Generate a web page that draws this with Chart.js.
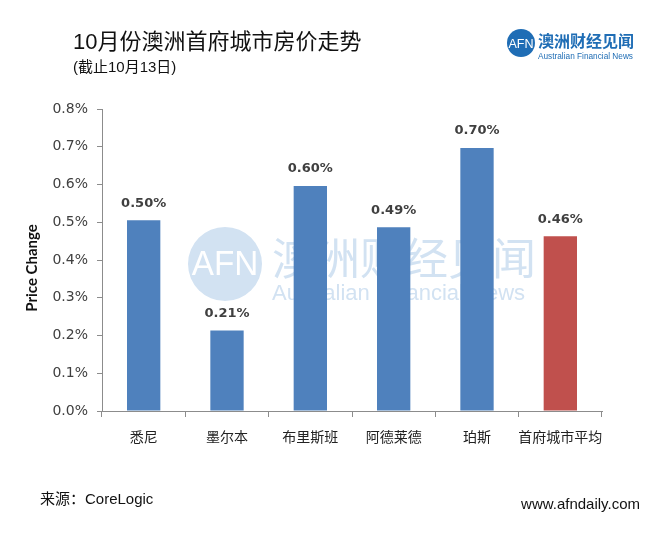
<!DOCTYPE html>
<html>
<head>
<meta charset="utf-8">
<script src="https://cdn.jsdelivr.net/npm/chart.js@4.4.0/dist/chart.umd.min.js"></script>
<style>
  body { margin: 0; background: #fff; }
  canvas { display: block; }
</style>
</head>
<body>
<canvas id="priceChart" width="668" height="538"></canvas>
<script>
// 10月份澳洲首府城市房价走势
var cities = ['悉尼', '墨尔本', '布里斯班', '阿德莱德', '珀斯', '首府城市平均'];
var priceChange = [0.505, 0.213, 0.596, 0.487, 0.697, 0.463];
var changeLabels = ['0.50%', '0.21%', '0.60%', '0.49%', '0.70%', '0.46%'];
var barColors = ['#4F81BD', '#4F81BD', '#4F81BD', '#4F81BD', '#4F81BD', '#C0504D'];

var titleText = '10月份澳洲首府城市房价走势';
var subTitleText = '(截止10月13日)';
var axisTitle = 'Price Change';
var sourceText = '来源：CoreLogic';
var siteText = 'www.afndaily.com';

var cjk = "'Liberation Sans', 'Noto Sans CJK SC', sans-serif";

function drawLogo(ctx, cx, cy, r, cnFont, enSize, color, textX, cnY, enY, enWidth) {
    ctx.save();
    ctx.fillStyle = color;
    ctx.beginPath();
    ctx.arc(cx, cy, r, 0, Math.PI * 2);
    ctx.fill();
    ctx.fillStyle = '#fff';
    ctx.textAlign = 'center';
    ctx.textBaseline = 'middle';
    ctx.font = Math.round(r * 0.95) + "px 'Liberation Sans', sans-serif";
    ctx.fillText('AFN', cx, cy + 1, r * 1.8);
    ctx.fillStyle = color;
    ctx.textAlign = 'left';
    ctx.font = cnFont;
    ctx.fillText('澳洲财经见闻', textX, cnY);
    ctx.font = enSize + "px 'Liberation Sans', sans-serif";
    ctx.fillText('Australian Financial News', textX, enY, enWidth);
    ctx.restore();
}

// 水印
var watermark = {
    id: 'watermark',
    beforeDatasetsDraw: function(chart) {
        drawLogo(chart.ctx, 225, 264, 37, "44px 'Noto Sans CJK SC', sans-serif",
            22, '#d2e2f2', 272, 258, 294, 254);
    }
};

// 标题, 数值, 来源
var decorations = {
    id: 'decorations',
    afterDatasetsDraw: function(chart) {
        var ctx = chart.ctx;
        var meta = chart.getDatasetMeta(0);
        ctx.save();
        ctx.fillStyle = '#404040';
        ctx.font = "bold 13px 'DejaVu Sans', sans-serif";
        ctx.textAlign = 'center';
        ctx.textBaseline = 'middle';
        meta.data.forEach(function(bar, i) {
            ctx.fillText(changeLabels[i], bar.x, bar.y - 17);
        });
        ctx.restore();
    },
    afterDraw: function(chart) {
        var ctx = chart.ctx;
        ctx.save();
        ctx.fillStyle = '#111';
        ctx.textBaseline = 'middle';
        ctx.textAlign = 'left';
        ctx.font = '22px ' + cjk;
        ctx.fillText(titleText, 73, 43);
        ctx.font = '15px ' + cjk;
        ctx.fillText(subTitleText, 73, 68);
        ctx.fillText(sourceText, 40, 500);
        ctx.textAlign = 'right';
        ctx.fillText(siteText, 640, 505);
        // y 轴标题
        ctx.translate(32, 268);
        ctx.rotate(-Math.PI / 2);
        ctx.textAlign = 'center';
        ctx.font = 'bold 15px Lato, sans-serif';
        ctx.fillText(axisTitle, 0, 0);
        ctx.restore();
        drawLogo(ctx, 521, 43, 14, "bold 16px 'Noto Sans CJK SC', sans-serif",
            9, '#1f6db5', 538, 41, 57, 95);
    }
};

var ctx1 = document.getElementById('priceChart').getContext('2d');
var myChart1 = new Chart(ctx1, {
    type: 'bar',
    data: {
        labels: cities,
        datasets: [{
            data: priceChange,
            backgroundColor: barColors,
            barPercentage: 0.4,
            categoryPercentage: 1
        }]
    },
    options: {
        responsive: false,
        animation: false,
        layout: { padding: { left: 20, right: 66, top: 109, bottom: 0 } },
        plugins: {
            legend: { display: false },
            tooltip: { enabled: false }
        },
        scales: {
            x: {
                afterFit: function(scale) { scale.height = 127; },
                grid: { offset: true, drawOnChartArea: false, tickLength: 6, color: '#8c8c8c' },
                border: { color: '#8c8c8c' },
                ticks: {
                    padding: 11,
                    maxRotation: 0,
                    minRotation: 0,
                    autoSkip: false,
                    color: '#222',
                    font: { family: "'Noto Sans CJK SC', sans-serif", size: 14 }
                }
            },
            y: {
                min: 0,
                max: 0.8,
                afterFit: function(scale) { scale.width = 82; },
                grid: { drawOnChartArea: false, tickLength: 5, color: '#8c8c8c' },
                border: { color: '#8c8c8c' },
                ticks: {
                    stepSize: 0.1,
                    padding: 9,
                    color: '#404040',
                    font: { family: "'DejaVu Sans', sans-serif", size: 14 },
                    callback: function(v) { return v.toFixed(1) + '%'; }
                }
            }
        }
    },
    plugins: [watermark, decorations]
});
</script>
</body>
</html>
